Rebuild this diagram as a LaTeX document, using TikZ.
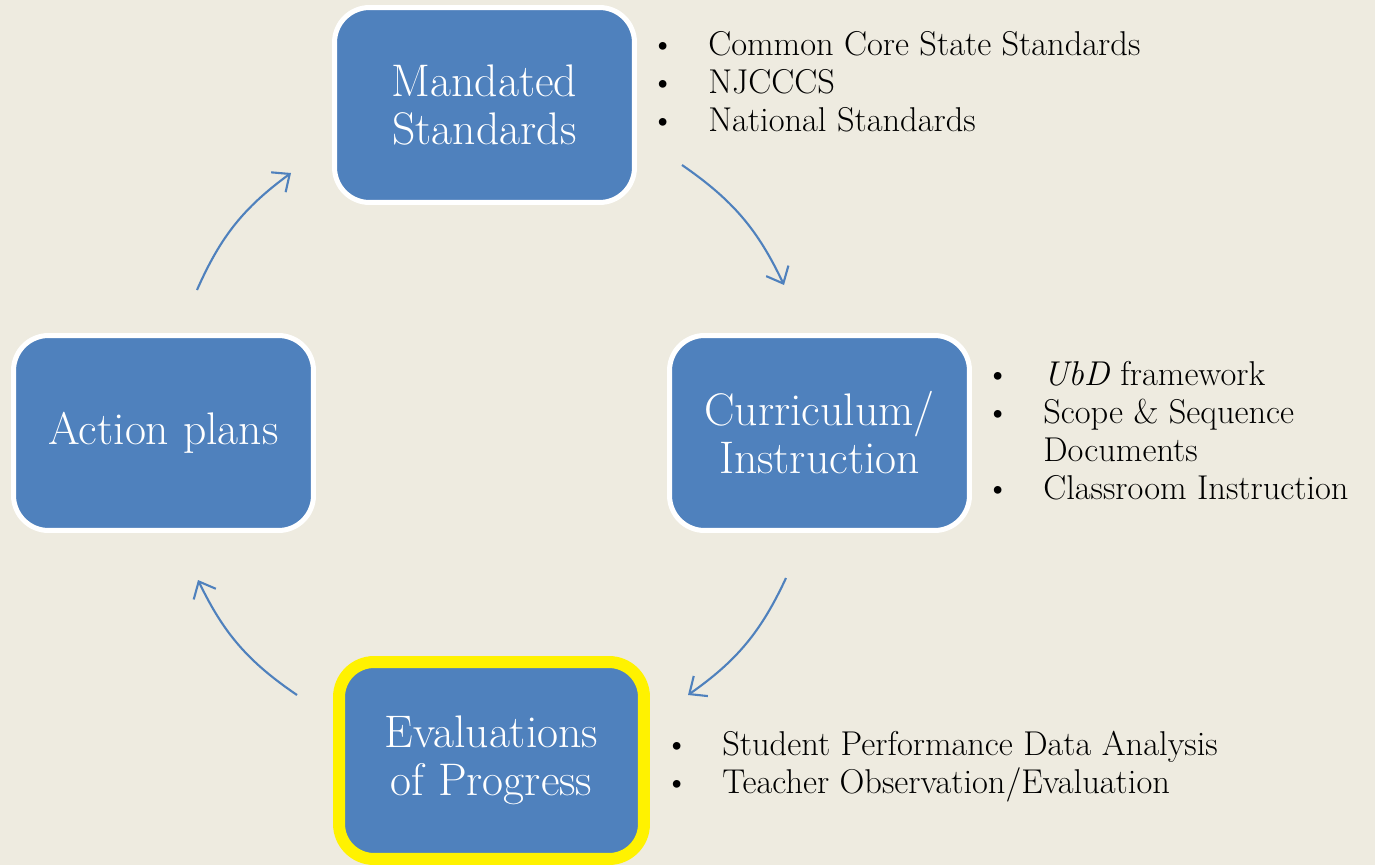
\documentclass[tikz,border=0pt]{standalone}
\usetikzlibrary{arrows.meta}
\definecolor{bgcol}{HTML}{EEEBE0}
\definecolor{boxblue}{HTML}{4F81BD}
\tikzset{
  stage/.style={draw=white, line width=0.1cm, fill=boxblue, rounded corners=0.7cm,
    minimum width=6cm, minimum height=3.9cm, text=white, align=center,
    font=\fontsize{26}{27.3}\selectfont},
  notes/.style={align=left, inner sep=0pt, font=\fontsize{19.6}{21.6}\selectfont},
  loopline/.style={draw=boxblue, line width=1.2pt, -{Straight Barb[length=8pt,width=14pt]}}
}
\newcommand{\itm}{\makebox[33pt][l]{\textbullet}}

\begin{document}
\begin{tikzpicture}[x=0.02cm,y=-0.02cm]
\fill[bgcol] (0,0) rectangle (1375,865);
\useasboundingbox (0,0) rectangle (1375,865);

\node[stage] (mand) at (484.5,105) {Mandated\\Standards};
\node[stage] (curr) at (819.5,433) {Curriculum/\\Instruction};
\node[stage] (act) at (163.5,433) {Action plans};
\node[stage, draw=yellow, line width=0.24cm, minimum width=6.1cm, minimum height=3.94cm] (eval) at (491.5,760.5) {Evaluations\\of Progress};

\node[notes, anchor=west] (mandnotes) at (650,82) {\itm Common Core State Standards\\\itm NJCCCS\\\itm National Standards};
\node[notes, anchor=west] (currnotes) at (985,431) {\itm\textit{UbD} framework\\\itm Scope \& Sequence\\\hspace*{33pt}Documents\\\itm Classroom Instruction};
\node[notes, anchor=west] (evalnotes) at (664,767) {\itm Student Performance Data Analysis\\\itm Teacher Observation/Evaluation};

% arrows round the cycle
\coordinate (up1) at (197,290);
\coordinate (up2) at (291,173);
\coordinate (rt1) at (682,165);
\coordinate (rt2) at (784,285);
\coordinate (dn1) at (786,578);
\coordinate (dn2) at (688,695);
\coordinate (lf1) at (297,695);
\coordinate (lf2) at (198,580);
\draw[loopline] (up1) to[bend left=15] (up2);
\draw[loopline] (rt1) to[bend left=15] (rt2);
\draw[loopline] (dn1) to[bend left=15] (dn2);
\draw[loopline] (lf1) to[bend left=15] (lf2);
\end{tikzpicture}
\end{document}
